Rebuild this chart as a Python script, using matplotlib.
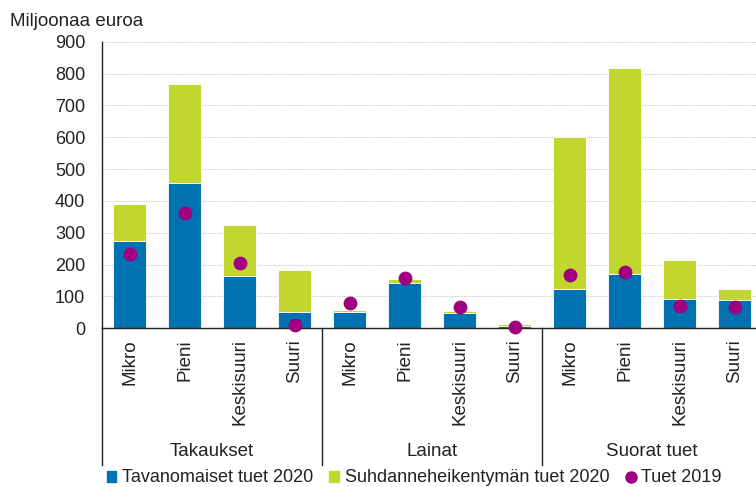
import matplotlib.pyplot as plt
import matplotlib.transforms as mtransforms
from matplotlib.lines import Line2D
from matplotlib.patches import Patch

plt.rcParams['font.family'] = ['Liberation Sans', 'DejaVu Sans']

# data (million euros)
groups = ['Takaukset', 'Lainat', 'Suorat tuet']
sizes = ['Mikro', 'Pieni', 'Keskisuuri', 'Suuri']
tavanomaiset_2020 = [274, 455, 163, 52, 52, 143, 47, 7, 122, 170, 93, 88]
suhdanne_2020 = [115, 311, 160, 131, 5, 11, 6, 6, 480, 648, 120, 34]
tuet_2019 = [232, 362, 206, 10, 80, 157, 66, 3, 166, 177, 71, 66]

blue = '#0072B2'
green = '#C1D72F'
purple = '#A0007F'
txt = '#222222'

labels = sizes * len(groups)
x = list(range(len(labels)))

fig = plt.figure(figsize=(7.56, 4.87), dpi=100)
ax = fig.add_axes([102 / 756, 1 - 328.3 / 487, 1 - 102 / 756, (328.3 - 41.7) / 487])

ax.bar(x, tavanomaiset_2020, width=0.6, color=blue, edgecolor='white', linewidth=0.6, zorder=2)
ax.bar(x, suhdanne_2020, width=0.6, bottom=tavanomaiset_2020, color=green,
       edgecolor='white', linewidth=0.6, zorder=2)
ax.scatter(x, tuet_2019, s=80, color=purple, zorder=3, clip_on=False)

ax.set_ylim(0, 900)
ax.set_xlim(-0.5, 11.39)
ax.set_yticks(range(0, 1000, 100))
ax.yaxis.grid(True, linestyle=(0, (1, 1.2)), color='#c4c4c4', linewidth=0.8, zorder=0)
ax.tick_params(axis='y', length=0, labelsize=13, pad=12, colors=txt)
ax.set_xticks(x)
ax.set_xticklabels(labels, rotation=90, va='top', ha='center')
ax.tick_params(axis='x', length=0, labelsize=13.5, pad=8, colors=txt)

for s in ['top', 'right']:
    ax.spines[s].set_visible(False)
for s in ['left', 'bottom']:
    ax.spines[s].set_color(txt)
    ax.spines[s].set_linewidth(1.0)

# group separators and group names under the axis
trans = mtransforms.blended_transform_factory(ax.transData, fig.transFigure)
y_bottom = 1 - 328.3 / 487
y_end = 1 - 465 / 487
for sx in [-0.5, 3.5, 7.5]:
    fig.add_artist(Line2D([sx, sx], [y_bottom, y_end], transform=trans,
                          color=txt, linewidth=1.0))
for i, g in enumerate(groups):
    fig.text(i * 4 + 1.5, 1 - 452 / 487, g, transform=trans, ha='center', va='center',
             fontsize=13.5, color=txt)

fig.text(10 / 756, 1 - 22 / 487, 'Miljoonaa euroa', ha='left', va='center',
         fontsize=13.5, color=txt)

handles = [
    Patch(color=blue, label='Tavanomaiset tuet 2020'),
    Patch(color=green, label='Suhdanneheikentymän tuet 2020'),
    Line2D([], [], marker='o', linestyle='', color=purple, markersize=8, label='Tuet 2019'),
]
fig.legend(handles=handles, loc='center', bbox_to_anchor=(414 / 756, 1 - 478 / 487),
           ncol=3, frameon=False, fontsize=13, handlelength=0.55, handleheight=0.55,
           handletextpad=0.3, columnspacing=0.9, labelcolor=txt)

fig.savefig('out.png', dpi=100)
